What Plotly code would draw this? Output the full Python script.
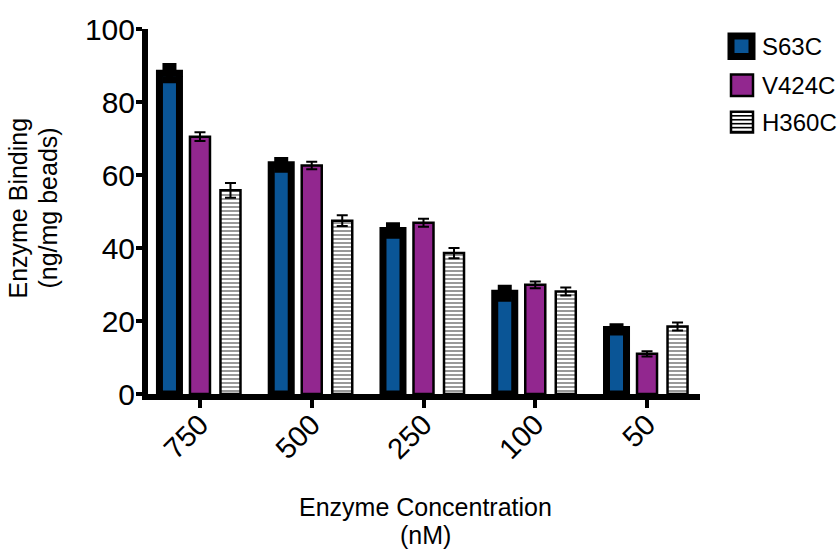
import plotly.graph_objects as go

# Enzyme binding per mutant at each enzyme concentration
concentrations = ["750", "500", "250", "100", "50"]
s63c = [87.9, 62.8, 44.8, 27.6, 17.7]
s63c_err = [1.8, 1.2, 1.3, 1.4, 0.7]
v424c = [70.5, 62.6, 46.9, 29.9, 11.0]
v424c_err = [1.2, 1.0, 1.1, 0.9, 0.7]
h360c = [55.8, 47.5, 38.6, 28.1, 18.5]
h360c_err = [2.0, 1.5, 1.4, 1.1, 1.1]

BLUE = "#0a5596"
PURPLE = "#92278f"
FONT = "Liberation Sans, Arial, Helvetica, sans-serif"

W, H = 837, 550
L, R, T, B = 148, 137, 24, 156
PW, PH = W - L - R, H - T - B


def px(x):
    return (x - L) / PW


def py(y):
    return (H - B - y) / PH


def label(text, x, y, xanchor="center", size=24, angle=0):
    return dict(text=text, xref="paper", yref="paper", x=px(x), y=py(y),
                xanchor=xanchor, yanchor="middle", textangle=angle,
                showarrow=False, font=dict(size=size, color="black", family=FONT))


fig = go.Figure()
fig.add_trace(go.Bar(
    name="S63C", x=concentrations, y=s63c,
    marker=dict(color=BLUE, line=dict(color="black", width=7)),
    error_y=dict(type="data", array=s63c_err, color="black", thickness=7, width=7),
))
fig.add_trace(go.Bar(
    name="V424C", x=concentrations, y=v424c,
    marker=dict(color=PURPLE, line=dict(color="black", width=2.5)),
    error_y=dict(type="data", array=v424c_err, color="black", thickness=2, width=5.5),
))
fig.add_trace(go.Bar(
    name="H360C", x=concentrations, y=h360c,
    marker=dict(color="white", line=dict(color="black", width=2.5),
                pattern=dict(shape="-", size=4, solidity=0.4,
                             fgcolor="black", bgcolor="white")),
    error_y=dict(type="data", array=h360c_err, color="black", thickness=2, width=5.5),
))

# Legend drawn as shapes and labels on the right
shapes = []
annotations = []
legend_items = [
    ("S63C", BLUE, 7, 731, 752, 31, 52, 41.5),
    ("V424C", PURPLE, 2.5, 731, 753, 70, 92, 81),
    ("H360C", "white", 2.5, 731, 753, 108, 129, 118.5),
]
for name, fill, lw, x0, x1, y0, y1, yc in legend_items:
    shapes.append(dict(type="rect", xref="paper", yref="paper",
                       x0=px(x0), x1=px(x1), y0=py(y1), y1=py(y0),
                       fillcolor=fill, line=dict(color="black", width=lw)))
    annotations.append(label(name, 760, yc, xanchor="left", size=24))
# stripes inside the H360C key
for k in range(5):
    yy = 112 + 4 * k
    shapes.append(dict(type="line", xref="paper", yref="paper",
                       x0=px(732), x1=px(752), y0=py(yy), y1=py(yy),
                       line=dict(color="black", width=1.6)))

# Axis titles, one line per annotation
annotations.append(label("Enzyme Concentration", 425, 509, size=25))
annotations.append(label("(nM)", 425, 537, size=25))
annotations.append(label("Enzyme Binding", 18, 206, size=25, angle=-90))
annotations.append(label("(ng/mg beads)", 48, 206, size=25, angle=-90))

fig.update_layout(
    width=W, height=H,
    margin=dict(l=L, r=R, t=T, b=B, pad=0),
    paper_bgcolor="white", plot_bgcolor="white",
    barmode="group", bargap=0.181, bargroupgap=0.344,
    showlegend=False,
    font=dict(family=FONT, color="black"),
    shapes=shapes, annotations=annotations,
    xaxis=dict(
        type="category", range=[-0.465, 4.474],
        showline=True, linecolor="black", linewidth=6,
        ticks="outside", ticklen=8, tickwidth=4, tickcolor="black",
        tickangle=-45, tickfont=dict(size=29, family=FONT, color="black"),
        ticklabelstandoff=-12,
        showgrid=False, zeroline=False,
    ),
    yaxis=dict(
        range=[0, 100], tickvals=[0, 20, 40, 60, 80, 100],
        showline=True, linecolor="black", linewidth=6,
        ticks="outside", ticklen=6, tickwidth=4, tickcolor="black",
        tickfont=dict(size=30, family=FONT, color="black"),
        ticklabelstandoff=-5,
        showgrid=False, zeroline=False,
    ),
)

fig.write_html("out.html")
